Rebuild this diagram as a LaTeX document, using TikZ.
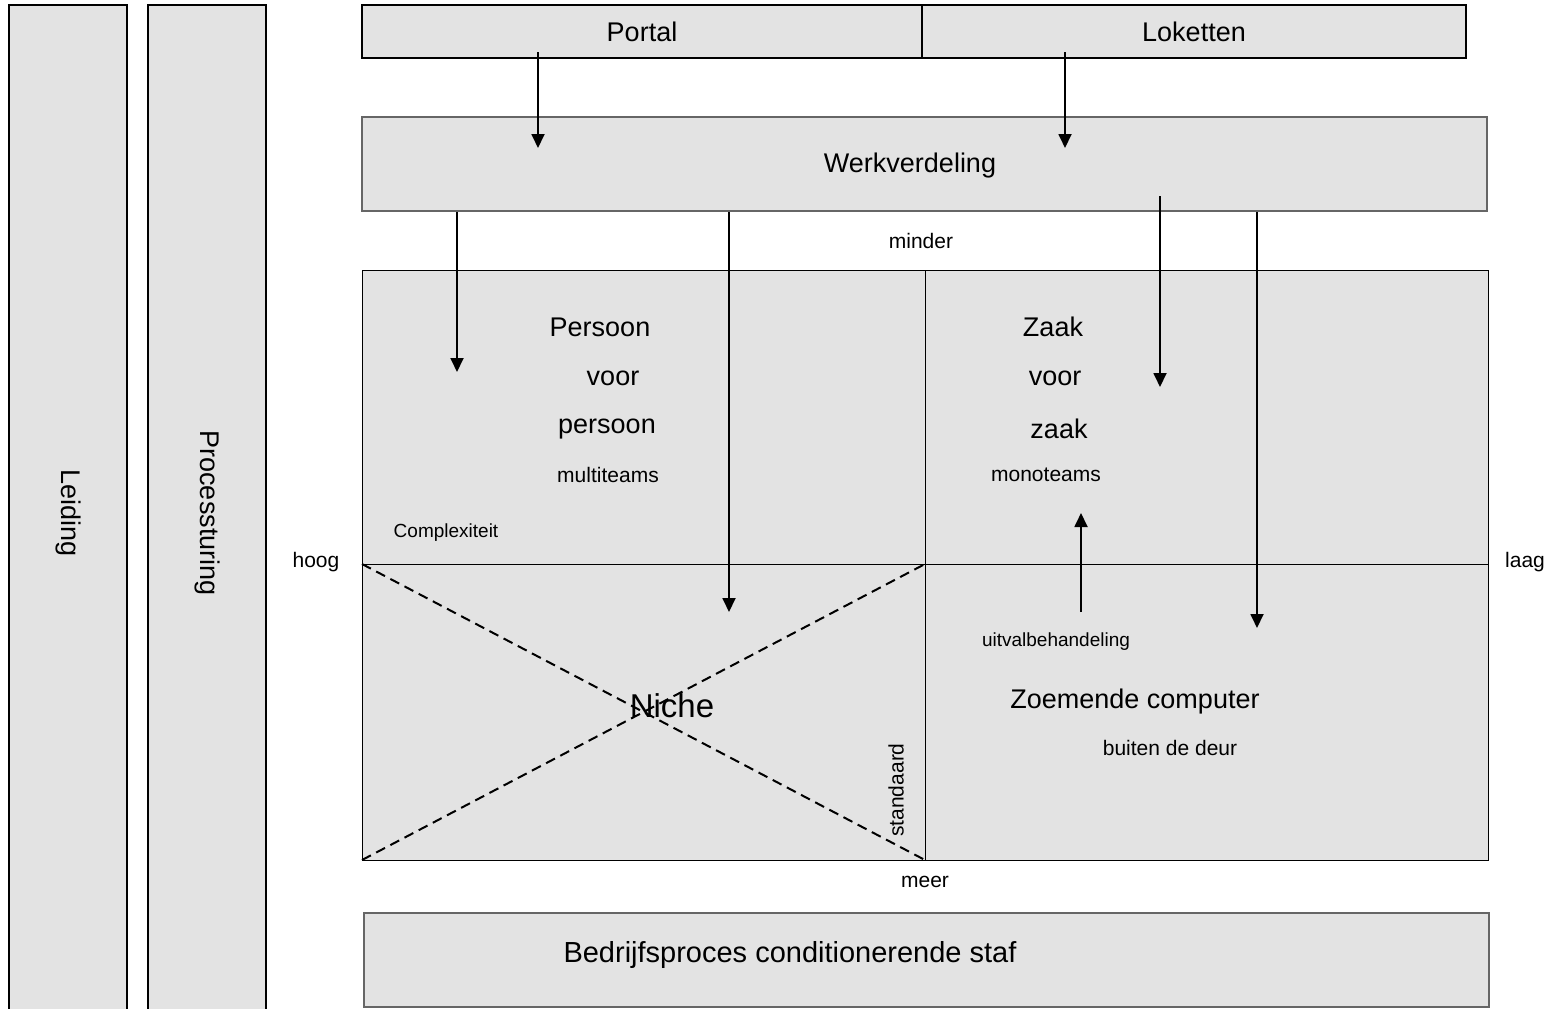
\documentclass[tikz,border=0pt]{standalone}
\usepackage{fontspec}
\setmainfont{Liberation Sans}
\usetikzlibrary{arrows.meta, positioning}
\definecolor{boxgray}{RGB}{227,227,227}

\begin{document}
\begin{tikzpicture}[x=0.5pt, y=-0.5pt,
  blok/.style={draw, line width=1pt, fill=boxgray, inner sep=0pt, anchor=north west, font=\fontsize{13.5}{16}\selectfont},
  pijl/.style={-{Triangle[length=7pt, width=6.5pt]}, line width=0.9pt},
  lab/.style={font=\fontsize{10.5}{12}\selectfont, inner sep=0pt},
  klein/.style={font=\fontsize{9.5}{11}\selectfont, inner sep=0pt},
  groot/.style={font=\fontsize{13.5}{16}\selectfont, inner sep=0pt}]
\useasboundingbox (0,0) rectangle (1558,1008);

% Side columns
\node[blok, minimum width=59pt, minimum height=508pt] (leiding) at (8,4) {};
\node[rotate=-90, groot] at (leiding.center) {Leiding};
\node[blok, minimum width=59pt, minimum height=508pt] (sturing) at (147,4) {};
\node[rotate=-90, groot] at (sturing.center) {Processturing};

% Entry channels
\node[blok, minimum width=280pt, minimum height=26.5pt] (portal) at (361,4) {Portal};
\node[blok, minimum width=272pt, minimum height=26.5pt] (loket) at (921,4) {Loketten};
\node[blok, draw=black!60, minimum width=562.5pt, minimum height=47pt] (werk) at (361,116) {};
\node[groot] (werktxt) at (910,166) {Werkverdeling};

% Matrix
\fill[boxgray] (362,270) rectangle (1488,860);
\draw[line width=0.5pt] (362,270) rectangle (1488,860);
\draw[line width=0.5pt] (925,270) -- (925,860);
\draw[line width=0.5pt] (362,564) -- (1488,564);
\coordinate (lb) at (362,564);
\coordinate (rb) at (925,564);
\coordinate (lo) at (362,860);
\coordinate (ro) at (925,860);
\draw[line width=1pt, dash pattern=on 5pt off 3pt] (lb) -- (ro);
\draw[line width=1pt, dash pattern=on 5pt off 3pt] (lo) -- (rb);

% Bottom staff
\node[blok, draw=black!60, minimum width=562.5pt, minimum height=47pt] (staf) at (363,912) {};
\node[font=\fontsize{14.5}{17}\selectfont, inner sep=0pt] (staftxt) at (790,955) {Bedrijfsproces conditionerende staf};

% Axis labels
\node[lab] (minder) at (921,241) {minder};
\node[lab] (meer) at (925,882) {meer};
\node[lab] (hoog) at (316,562) {hoog};
\node[lab] (laag) at (1525,562) {laag};
\node[klein] (compl) at (446,533) {Complexiteit};
\node[lab, rotate=90] (std) at (896,790) {standaard};

% Quadrant texts
\node[groot] (p1) at (600,327) {Persoon};
\node[groot] (p2) at (613,378) {voor};
\node[groot] (p3) at (607,429) {persoon};
\node[lab] (multi) at (608,475) {multiteams};
\node[groot] (z1) at (1053,327) {Zaak};
\node[groot] (z2) at (1055,378) {voor};
\node[groot] (z3) at (1059,429) {zaak};
\node[lab] (mono) at (1046,475) {monoteams};
\node[klein] (uitval) at (1056,642) {uitvalbehandeling};
\node[groot] (zoem) at (1135,702) {Zoemende computer};
\node[lab] (buiten) at (1170,748) {buiten de deur};
\node[font=\fontsize{16.5}{19}\selectfont, inner sep=0pt] (niche) at (672,706) {Niche};

% Arrows
\coordinate (a1) at (538,52);   \coordinate (a1e) at (538,148);
\coordinate (a2) at (1065,52);  \coordinate (a2e) at (1065,148);
\coordinate (b1) at (457,212);  \coordinate (b1e) at (457,372);
\coordinate (b2) at (729,212);  \coordinate (b2e) at (729,612);
\coordinate (b3) at (1160,196); \coordinate (b3e) at (1160,387);
\coordinate (b4) at (1257,212); \coordinate (b4e) at (1257,628);
\coordinate (c1) at (1081,612); \coordinate (c1e) at (1081,513);
\draw[pijl] (a1) -- (a1e);
\draw[pijl] (a2) -- (a2e);
\draw[pijl] (b1) -- (b1e);
\draw[pijl] (b2) -- (b2e);
\draw[pijl] (b3) -- (b3e);
\draw[pijl] (b4) -- (b4e);
\draw[pijl] (c1) -- (c1e);
\end{tikzpicture}
\end{document}
